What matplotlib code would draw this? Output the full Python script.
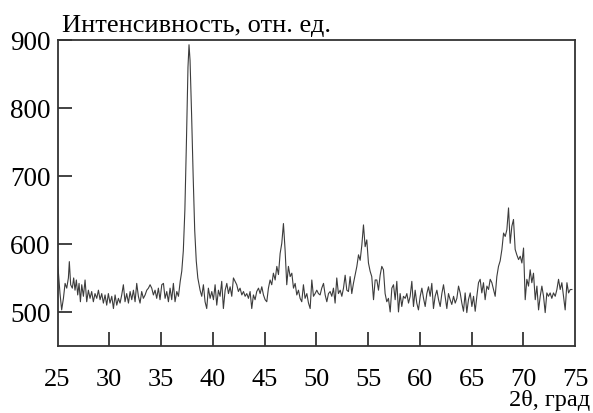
import matplotlib
matplotlib.use("Agg")
import matplotlib.pyplot as plt

# 2theta (deg) and intensity (arb. units)
two_theta = [
    25.00, 25.08, 25.24, 25.40, 25.57, 25.73, 25.89, 26.05, 26.14, 26.27, 26.43, 26.56, 26.69, 26.82, 26.95,
    27.08, 27.21, 27.34, 27.50, 27.66, 27.82, 27.98, 28.14, 28.30, 28.46, 28.62, 28.79, 28.95, 29.11, 29.27,
    29.43, 29.59, 29.75, 29.91, 30.07, 30.24, 30.40, 30.56, 30.72, 30.88, 31.04, 31.20, 31.36, 31.52, 31.68,
    31.85, 32.01, 32.17, 32.33, 32.49, 32.65, 32.81, 32.97, 33.13, 33.29, 33.46, 33.62, 33.78, 33.94, 34.10,
    34.26, 34.42, 34.58, 34.74, 34.90, 35.07, 35.23, 35.39, 35.55, 35.71, 35.87, 36.03, 36.19, 36.35, 36.52,
    36.68, 36.85, 37.00, 37.15, 37.30, 37.45, 37.60, 37.70, 37.80, 37.95, 38.10, 38.25, 38.40, 38.55,
    38.77, 38.93, 39.09, 39.25, 39.41, 39.57, 39.74, 39.90, 40.06, 40.22, 40.38, 40.54, 40.70, 40.86, 41.02,
    41.19, 41.35, 41.51, 41.67, 41.83, 41.99, 42.15, 42.31, 42.47, 42.63, 42.80, 42.96, 43.12, 43.28, 43.44,
    43.60, 43.76, 43.92, 44.08, 44.24, 44.41, 44.57, 44.73, 44.89, 45.05, 45.21, 45.37, 45.53, 45.69, 45.85,
    46.02, 46.18, 46.34, 46.50, 46.66, 46.82, 46.98, 47.14, 47.30, 47.47, 47.63, 47.79, 47.95, 48.11, 48.27,
    48.43, 48.59, 48.75, 48.91, 49.08, 49.24, 49.40, 49.56, 49.72, 49.88, 50.04, 50.20,
    50.36, 50.52, 50.69, 50.85, 51.01, 51.17, 51.33, 51.49, 51.65, 51.81, 51.97, 52.13, 52.30, 52.46, 52.62,
    52.78, 52.94, 53.10, 53.26, 53.42, 53.58, 53.74, 53.91, 54.07, 54.23, 54.39, 54.55, 54.71, 54.87, 55.03,
    55.19, 55.35, 55.52, 55.68, 55.84, 56.00, 56.16, 56.32, 56.48, 56.64, 56.80, 56.96, 57.13, 57.29, 57.45,
    57.61, 57.77, 57.93, 58.09, 58.25, 58.41, 58.58, 58.74, 58.90, 59.06, 59.22, 59.38, 59.54, 59.70, 59.86,
    60.03, 60.19, 60.35, 60.51, 60.67, 60.83, 60.99, 61.15, 61.31, 61.47, 61.64, 61.80, 61.96, 62.12, 62.28,
    62.44, 62.60, 62.76,
    62.92, 63.08, 63.25, 63.41, 63.57, 63.73, 63.89, 64.05, 64.21, 64.37, 64.53, 64.69, 64.86, 65.02, 65.18,
    65.34, 65.50, 65.66, 65.82, 65.98, 66.14, 66.30, 66.47, 66.63, 66.79, 66.95, 67.11, 67.27, 67.43, 67.59,
    67.75, 67.92, 68.08, 68.24, 68.40, 68.56, 68.72, 68.88, 69.04, 69.20, 69.36, 69.53, 69.69, 69.85, 70.01,
    70.17, 70.33, 70.49, 70.65, 70.81, 70.97, 71.14, 71.30, 71.46, 71.62, 71.78, 71.94, 72.10, 72.26, 72.42,
    72.58, 72.74, 72.90, 73.07, 73.23, 73.39, 73.55, 73.71, 73.87, 74.03, 74.20, 74.36, 74.52, 74.68,
]
intensity = [
    569, 559, 527, 503, 520, 542, 535, 550, 574, 540, 535, 550, 532, 547, 525,
    542, 515, 540, 523, 547, 515, 532, 520, 530, 515, 527, 520, 532, 518, 527,
    513, 525, 510, 527, 513, 523, 505, 525, 510, 520, 513, 525, 540, 515, 527,
    513, 530, 518, 532, 515, 542, 523, 513, 530, 520, 525, 532, 535, 540, 535,
    525, 532, 520, 535, 518, 540, 542, 520, 530, 515, 535, 518, 542, 515, 530,
    523, 545, 560, 590, 650, 750, 860, 893, 870, 790, 700, 620, 575, 550,
    532, 523, 540, 515, 505, 535, 520, 530, 518, 540, 510, 532, 523, 545, 505,
    532, 542, 527, 537, 523, 550, 545, 540, 530, 535, 525, 530, 523, 527, 520,
    530, 505, 525, 518, 530, 535, 527, 537, 525, 518, 515, 535, 547, 540, 557,
    547, 567, 555, 586, 601, 630, 591, 540, 567, 552, 557, 535, 542, 525, 532,
    520, 515, 540, 520, 527, 513, 505, 547, 523, 527, 532, 527,
    525, 535, 542, 525, 515, 527, 530, 523, 535, 513, 550, 527, 532, 523, 535,
    554, 532, 530, 552, 527, 542, 554, 567, 584, 576, 598, 628, 596, 606, 572,
    560, 552, 518, 547, 547, 532, 554, 567, 562, 527, 515, 520, 500, 535, 540,
    518, 545, 500, 527, 508, 523, 520, 527, 513, 523, 545, 508, 532, 513, 503,
    523, 535, 520, 508, 527, 537, 523, 542, 505, 523, 532, 518, 508, 527, 540,
    523, 505, 527,
    518, 511, 523, 513, 520, 538, 528, 513, 501, 528, 499, 518, 528, 508, 523,
    501, 523, 543, 548, 528, 543, 518, 538, 533, 548, 543, 533, 523, 552, 567,
    575, 592, 616, 611, 621, 653, 601, 626, 636, 592, 584, 577, 582, 572, 594,
    518, 548, 538, 562, 543, 557, 518, 538, 503, 523, 538, 523, 499, 528, 523,
    528, 520, 528, 523, 533, 548, 533, 543, 523, 503, 543, 528, 533, 533,
]

x_ticks = [30, 35, 40, 45, 50, 55, 60, 65, 70]
x_ticklabels = ["25", "30", "35", "40", "45", "50", "55", "60", "65", "70", "75"]
y_ticks = [500, 600, 700, 800, 900]
y_label = "Интенсивность, отн. ед."
x_label = "2θ, град"

plt.rcParams["font.family"] = ["Liberation Serif", "DejaVu Serif"]

fig = plt.figure(figsize=(5.93, 4.14), dpi=100)
ax = fig.add_axes([0.097, 0.162, 0.873, 0.739])

ax.plot(two_theta, intensity, color="#3c3c3c", linewidth=0.8)

ax.set_xlim(25, 75)
ax.set_ylim(450, 900)

ax.set_xticks(x_ticks)
ax.set_xticklabels([])
ax.set_yticks(y_ticks)
ax.tick_params(axis="both", direction="in", length=10, width=1.2, color="#222222")
ax.tick_params(axis="y", labelsize=19.5, pad=5)
for s in ax.spines.values():
    s.set_linewidth(1.3)
    s.set_color("#333333")

# x tick labels (include the ends at 25 and 75, which sit on the frame)
for v, lab in zip([25] + x_ticks + [75], x_ticklabels):
    ax.text(v, -0.072, lab, transform=ax.get_xaxis_transform(), ha="center", va="top", fontsize=19)

fig.text(62 / 593, 1 - 32 / 414, y_label, ha="left", va="baseline", fontsize=19)
fig.text(590 / 593, 1 - 406 / 414, x_label, ha="right", va="baseline", fontsize=17.5)

fig.savefig("out.png", dpi=100)
